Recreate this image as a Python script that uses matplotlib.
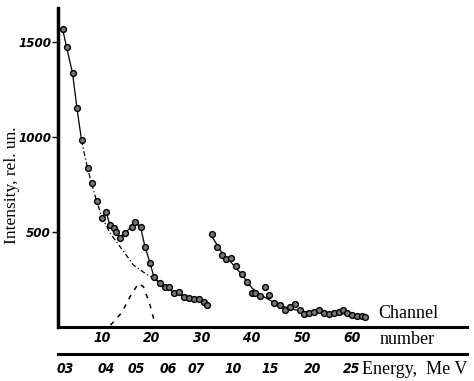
import numpy as np
import matplotlib
matplotlib.use("Agg")
import matplotlib.pyplot as plt
from matplotlib import font_manager

# measured spectrum, first part (channel, intensity)
ch1 = [2.1, 2.9, 4.1, 5.0, 5.9, 7.1, 7.9, 8.9, 9.9, 10.8, 11.6, 12.3, 12.8, 13.6,
       14.5, 15.9, 16.6, 17.7, 18.6, 19.6, 20.4, 21.6, 22.6, 23.4, 24.3, 25.3,
       26.3, 27.3, 28.3, 29.3, 30.3, 30.9]
int1 = [1572, 1475, 1338, 1151, 984, 837, 759, 665, 572, 607, 537, 519, 502, 467,
        493, 527, 551, 527, 423, 338, 262, 230, 209, 212, 177, 186,
        159, 151, 146, 146, 133, 116]

# second part
ch2 = [31.9, 32.9, 33.9, 34.8, 35.7, 36.8, 37.9, 38.9, 39.9, 40.6, 41.5, 42.6,
       43.3, 44.3, 45.6, 46.6, 47.6, 48.6, 49.6, 50.3, 51.3, 52.3, 53.3, 54.3,
       55.3, 56.3, 57.3, 58.1, 58.9, 59.9, 60.9, 61.9, 62.6]
int2 = [489, 423, 379, 356, 362, 321, 277, 238, 177, 181, 163, 212,
        168, 128, 116, 89, 107, 119, 89, 67, 75, 81, 89, 72,
        67, 72, 81, 89, 75, 63, 58, 58, 54]

# smooth curve through the second part
fit2_ch = [31.9, 34, 36, 38, 40, 42, 44, 46, 48, 50, 53, 56, 59, 62.6]
fit2_int = [480, 390, 335, 275, 205, 165, 135, 110, 95, 82, 78, 75, 68, 56]

# background (dash-dot) and peak (dashed) components
bg_ch = [5.9, 7.1, 7.9, 8.9, 9.9, 11.6, 13.6, 16.3, 18.6, 20.3, 21.6]
bg_int = [984, 837, 759, 665, 585, 495, 423, 326, 283, 258, 230]
pk_ch = [11.7, 13.9, 15.6, 17.3, 18.3, 19.6, 20.3, 20.6]
pk_int = [10, 74, 159, 230, 212, 116, 46, 21]

ch_ticks = [10, 20, 30, 40, 50, 60]
energy_labels = ['03', '04', '05', '06', '07', '10', '15', '20', '25']
energy_pos = [2.6, 10.9, 16.9, 23.2, 28.9, 36.2, 43.6, 52.2, 59.9]
y_ticks = [500, 1000, 1500]

names = {f.name for f in font_manager.fontManager.ttflist}
narrow = 'Liberation Sans Narrow' if 'Liberation Sans Narrow' in names else 'DejaVu Sans'
tickfont = dict(family=narrow, weight='bold', style='italic', size=10, stretch='condensed')
ytickfont = dict(tickfont, size=9.5)
serif = 'Liberation Serif'

fig = plt.figure(figsize=(4.74, 3.81), dpi=100)
ax = fig.add_axes([58 / 474, 54 / 381, 409 / 474, 319 / 381])

mk = dict(marker='o', ms=4.2, mfc='#777777', mec='black', mew=1.0, ls='none')

# upper solid part of the curve
ax.plot(ch1[:5], int1[:5], color='black', lw=0.9)
ax.plot(bg_ch, bg_int, color='black', lw=0.9, ls=(0, (4, 2, 1, 2)))
ax.plot(ch1[8:], int1[8:], color='black', lw=0.9)
ax.plot(pk_ch, pk_int, color='black', lw=1.1, ls=(0, (3, 4)))
ax.plot(fit2_ch, fit2_int, color='black', lw=0.9)
ax.plot(ch1, int1, **mk)
ax.plot(ch2, int2, **mk)

ax.set_xlim(1.2, 83)
ax.set_ylim(0, 1680)

for s in ['top', 'right']:
    ax.spines[s].set_visible(False)
ax.spines['left'].set_linewidth(2.5)
ax.spines['bottom'].set_linewidth(2.2)

ax.set_yticks(y_ticks)
ax.set_yticklabels([str(v) for v in y_ticks], fontdict=ytickfont)
ax.tick_params(axis='y', direction='out', length=4, width=1, pad=1)

ax.set_xticks(ch_ticks)
ax.set_xticklabels([str(v) for v in ch_ticks], fontdict=tickfont)
ax.tick_params(axis='x', length=0, pad=3)

# energy scale below
sec = ax.secondary_xaxis(-27 / 319)
sec.set_xticks(energy_pos)
sec.set_xticklabels(energy_labels, fontdict=tickfont)
sec.tick_params(axis='x', length=0, pad=6)
sec.spines['bottom'].set_linewidth(2.2)

ax.set_ylabel('Intensity, rel. un.', family=serif, fontsize=12.5)
ax.yaxis.set_label_coords(-0.094, 0.445)

fig.text(378 / 474, 1 - 313 / 381, 'Channel', family=serif, fontsize=13, va='center')
fig.text(380 / 474, 1 - 340 / 381, 'number', family=serif, fontsize=13, va='center')
fig.text(362 / 474, 1 - 370 / 381, 'Energy,  Me V', family=serif, fontsize=13, va='center')

fig.savefig('out.png', dpi=100)
